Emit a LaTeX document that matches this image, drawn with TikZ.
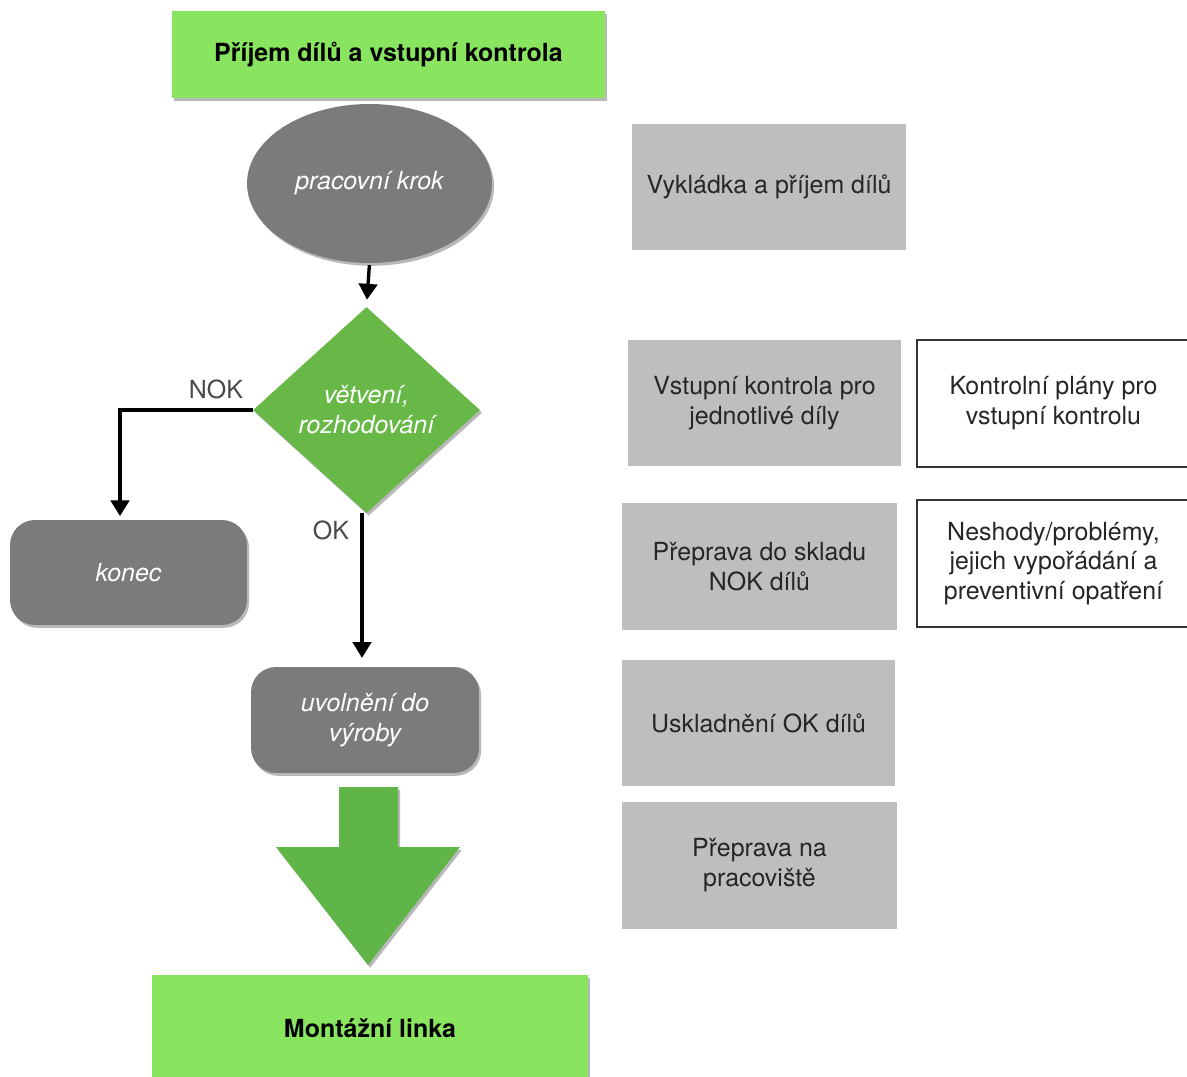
\documentclass[tikz,border=0pt]{standalone}
\usepackage{fontspec}
\setmainfont{TeX Gyre Heros}
\usetikzlibrary{shapes.geometric,arrows.meta,shadows}

\definecolor{headgreen}{HTML}{89E55F}
\definecolor{decgreen}{HTML}{67B846}
\definecolor{bigarrow}{HTML}{5FB548}
\definecolor{stepgray}{HTML}{7B7B7B}
\definecolor{notegray}{HTML}{BEBEBE}
\definecolor{labelgray}{HTML}{4A4A4A}

\newcommand{\diagfont}{\fontsize{14.2}{17}\selectfont}

\tikzset{
  softshadow/.style={drop shadow={shadow xshift=1.2pt, shadow yshift=-1.6pt, opacity=0.28, fill=black}},
  bodytext/.style={font=\diagfont, align=center},
  headbox/.style={rectangle, fill=headgreen, softshadow, inner sep=0pt,
    font=\diagfont\bfseries, text=black},
  stepshape/.style={fill=stepgray, softshadow, inner sep=0pt, text=white,
    font=\diagfont\itshape, align=center},
  notebox/.style={rectangle, fill=notegray, inner sep=0pt, bodytext, text=black!85},
  docbox/.style={rectangle, draw=black!80, line width=0.9pt, fill=white, inner sep=0pt, bodytext, text=black!85},
  flow/.style={line width=1.9pt, -{Triangle[width=10.5pt,length=9pt]}},
  branchlabel/.style={font=\diagfont, text=labelgray, inner sep=0pt}
}

\begin{document}
\begin{tikzpicture}[x=0.02cm, y=-0.02cm]
\useasboundingbox (0,0) rectangle (1187,1077);

% left column: process flow
\node[headbox, minimum width=8.66cm, minimum height=1.74cm] (head) at (388.5,54.5)
  {Příjem dílů a vstupní kontrola};

\node[stepshape, ellipse, minimum width=4.9cm, minimum height=3.18cm] (work) at (369.5,183.5)
  {pracovní krok};

\node[diamond, fill=decgreen, softshadow, inner sep=0pt, aspect=1.1,
      minimum width=4.54cm, minimum height=4.12cm] (dec) at (366.5,410) {};
\node[text=white, font=\diagfont\itshape, align=center] (dectext)
  at (dec.center) {větvení,\\rozhodování};

\node[stepshape, rectangle, rounded corners=0.5cm, minimum width=4.74cm, minimum height=2.1cm]
  (stop) at (128.5,572.5) {konec};

\node[stepshape, rectangle, rounded corners=0.5cm, minimum width=4.56cm, minimum height=2.12cm]
  (release) at (365,720) {uvolnění do\\výroby};

\node[headbox, minimum width=8.72cm, minimum height=2.14cm] (line) at (370,1028.5)
  {Montážní linka};

% block arrow down to the assembly line
\fill[bigarrow, softshadow]
  (339,787) -- (398,787) -- (398,847) -- (460,847) -- (368,965) -- (276,847) -- (339,847) -- cycle;

% connectors
\draw[flow, shorten <=1pt, shorten >=4pt] (work.south) -- (dec.north);
\draw[flow, shorten >=2pt] (dec.west) -| ([xshift=-0.17cm]stop.north);
\draw[flow, shorten >=5pt] ([xshift=-0.09cm]dec.south) -- ([xshift=-0.09cm]dec.south |- release.north);

\node[branchlabel] (nok) at (216,389) {NOK};
\node[branchlabel] (ok) at (331,530) {OK};

% right columns: activities and documents
\node[notebox, minimum width=5.48cm, minimum height=2.52cm] (n1) at (769,187)
  {Vykládka a příjem dílů};
\node[notebox, minimum width=5.46cm, minimum height=2.52cm] (n2) at (764.5,403)
  {Vstupní kontrola pro\\jednotlivé díly};
\node[notebox, minimum width=5.5cm, minimum height=2.54cm] (n3) at (759.5,566.5)
  {Přeprava do skladu\\NOK dílů};
\node[notebox, minimum width=5.46cm, minimum height=2.52cm] (n4) at (758.5,723)
  {Uskladnění OK dílů};
\node[notebox, minimum width=5.5cm, minimum height=2.54cm] (n5) at (759.5,865.5)
  {Přeprava na\\pracoviště};

\node[docbox, minimum width=5.46cm, minimum height=2.54cm] (d1) at (1053.5,403.5)
  {Kontrolní plány pro\\vstupní kontrolu};
\node[docbox, minimum width=5.46cm, minimum height=2.54cm] (d2) at (1053.5,563.5)
  {Neshody/problémy,\\jejich vypořádání a\\preventivní opatření};
\end{tikzpicture}
\end{document}
